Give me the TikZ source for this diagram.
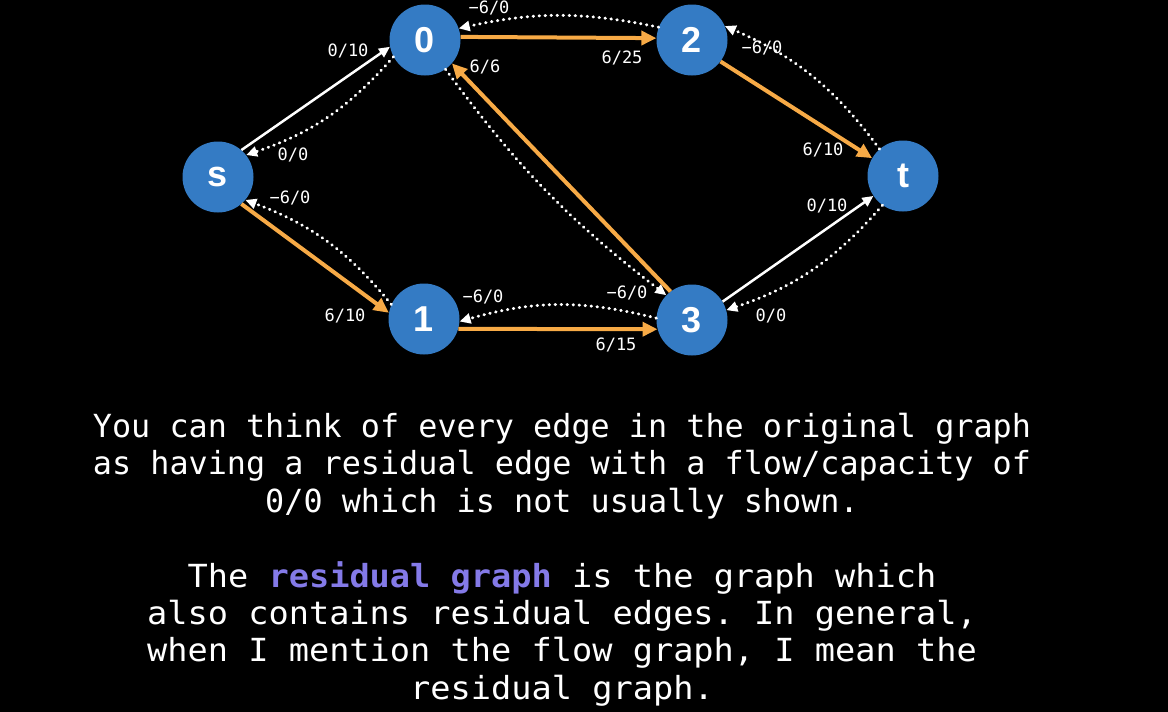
\documentclass[tikz,border=0pt]{standalone}
\usepackage{fontspec}
\setsansfont{Liberation Sans}
\setmonofont{DejaVu Sans Mono}
\usetikzlibrary{arrows.meta}

\definecolor{vblue}{RGB}{52,123,196}
\definecolor{fgold}{RGB}{247,170,70}
\definecolor{respurple}{RGB}{132,122,232}

\begin{document}
\begin{tikzpicture}[x=1pt,y=-1pt,
	vertex/.style={circle, fill=vblue, minimum size=71pt, inner sep=0pt, text=white, font=\sffamily\bfseries\fontsize{36}{36}\selectfont},
	flow/.style={fgold, line width=4pt, -{Triangle[length=15pt,width=14pt]}},
	unused/.style={white, line width=2.5pt, -{Triangle[length=11pt,width=10pt]}},
	resid/.style={white, line width=3pt, dash pattern=on 0.5pt off 5.5pt, line cap=round, -{Triangle[length=11pt,width=10pt]}},
	lbl/.style={text=white, inner sep=0pt, font=\ttfamily\fontsize{17}{17}\selectfont},
	caption/.style={text=white, align=center, anchor=base, inner sep=0pt, font=\ttfamily\fontsize{31.8}{37.3}\selectfont}]

	\fill[black] (0,0) rectangle (1168,712);

	% Vertices
	\node[vertex] (s) at (218,177) {s};
	\node[vertex] (v0) at (425,40) {0};
	\node[vertex] (v2) at (692,40) {2};
	\node[vertex] (v1) at (424,319) {1};
	\node[vertex] (v3) at (692,320) {3};
	\node[vertex] (t) at (903,176) {t};

	% Edges and residual edges
	\draw[unused] (s.49) -- (v0.191);
	\draw[resid] (v0.208) to[bend left=15] (s.38);
	\draw[flow] (s.-49) -- (v1.170);
	\draw[resid] (v1.156) to[bend right=15] (s.-40);

	\draw[flow] (v0.5) -- (v2.177);
	\draw[resid] (v2.159) to[bend right=12] (v0.19);
	\draw[flow] (v3.127) -- (v0.-41);
	\draw[resid] (v0.-55) to[bend right=8] (v3.136);
	\draw[flow] (v1.-16) -- (v3.195);
	\draw[resid] (v3.177) to[bend right=15] (v1.-4);

	\draw[flow] (v2.-37) -- (t.150);
	\draw[resid] (t.131) to[bend right=15] (v2.23);
	\draw[unused] (v3.31) -- (t.214);
	\draw[resid] (t.235) to[bend left=15] (v3.16);

	% Labels
	\node[lbl] (ls0) at (348,51) {0/10};
	\node[lbl] (l0s) at (293,155) {0/0};
	\node[lbl] (ls1) at (345,316) {6/10};
	\node[lbl] (l1s) at (290,198) {−6/0};
	\node[lbl] (l02) at (622,58) {6/25};
	\node[lbl] (l20) at (489,8) {−6/0};
	\node[lbl] (l30) at (485,67) {6/6};
	\node[lbl] (l03) at (627,293) {−6/0};
	\node[lbl] (l13) at (616,345) {6/15};
	\node[lbl] (l31) at (483,297) {−6/0};
	\node[lbl] (l2t) at (823,150) {6/10};
	\node[lbl] (lt2) at (762,48) {−6/0};
	\node[lbl] (l3t) at (827,206) {0/10};
	\node[lbl] (lt3) at (771,316) {0/0};

	% Caption
	\node[caption] (para1) at (562,512)
		{You can think of every edge in the original graph\\
		as having a residual edge with a flow/capacity of\\
		0/0 which is not usually shown.};
	\node[caption, xscale=1.057, transform shape] (para2) at (562,699)
		{The {\bfseries\color{respurple}residual graph} is the graph which\\
		also contains residual edges. In general,\\
		when I mention the flow graph, I mean the\\
		residual graph.};
\end{tikzpicture}
\end{document}
